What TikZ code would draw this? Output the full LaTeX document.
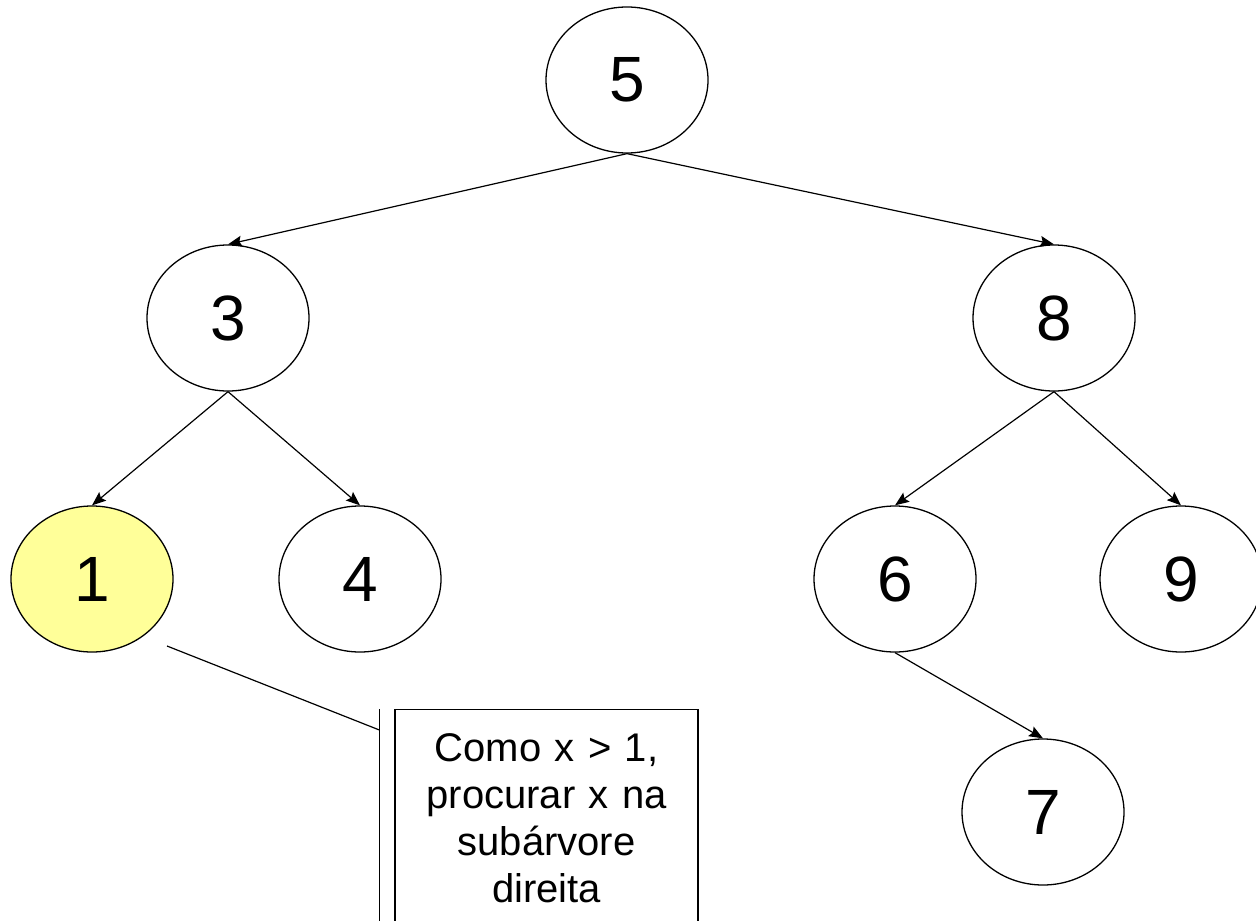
\documentclass[tikz,border=0pt]{standalone}
\usepackage{fontspec}
\setmainfont{Liberation Sans}
\usetikzlibrary{shapes.geometric,arrows.meta}
\definecolor{hilite}{HTML}{FFFF99}
\begin{document}
\begin{tikzpicture}[x=0.5pt,y=-0.5pt,
  treenode/.style={ellipse,draw,line width=0.65pt,minimum width=81pt,minimum height=73pt,
    inner sep=0pt,font=\fontsize{32}{38}\selectfont},
  link/.style={line width=0.6pt,-{Stealth[length=7pt,width=5.5pt,inset=1.2pt]}},
  callout/.style={draw,line width=0.6pt,align=center,text width=140pt,minimum width=151.5pt,
    inner xsep=0pt,inner ysep=12pt,font=\fontsize{20}{23.5}\selectfont}]
\path[use as bounding box] (0,0) rectangle (1256,920);

% binary search tree
\node[treenode] (n5) at (627,80) {5};
\node[treenode] (n3) at (228,318) {3};
\node[treenode] (n8) at (1054,318) {8};
\node[treenode,fill=hilite] (n1) at (92,579) {1};
\node[treenode] (n4) at (360,579) {4};
\node[treenode] (n6) at (895,579) {6};
\node[treenode] (n9) at (1181,579) {9};
\node[treenode] (n7) at (1043,812) {7};

\draw[link] (n5.south) -- (n3.north);
\draw[link] (n5.south) -- (n8.north);
\draw[link] (n3.south) -- (n1.north);
\draw[link] (n3.south) -- (n4.north);
\draw[link] (n8.south) -- (n6.north);
\draw[link] (n8.south) -- (n9.north);
\draw[link] (n6.south) -- (n7.north);

% annotation box with accent bar and leader line
\node[callout,anchor=north] (note) at (546.5,709) {Como x > 1,\\procurar x na\\subárvore\\direita};
\coordinate (bartop) at ([xshift=-7.5pt]note.north west);
\coordinate (barbot) at ([xshift=-7.5pt]note.south west);
\coordinate (barhit) at ([xshift=-7.5pt,yshift=-10.5pt]note.north west);
\coordinate (lead) at (167,646);
\draw[line width=0.6pt] (bartop) -- (barbot);
\draw[line width=0.6pt] (lead) -- (barhit);
\end{tikzpicture}
\end{document}
